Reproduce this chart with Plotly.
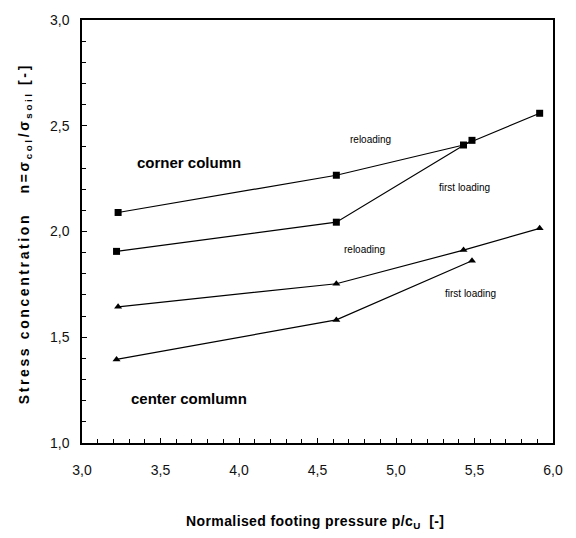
import plotly.graph_objects as go

# Corner column (squares)
corner_reload_x = [3.23, 4.62, 5.43, 5.915]
corner_reload_y = [2.09, 2.266, 2.409, 2.559]
corner_first_x = [3.22, 4.62, 5.484]
corner_first_y = [1.906, 2.044, 2.431]
# Center column (triangles)
center_reload_x = [3.23, 4.62, 5.43, 5.915]
center_reload_y = [1.644, 1.753, 1.912, 2.015]
center_first_x = [3.22, 4.62, 5.484]
center_first_y = [1.395, 1.582, 1.862]

fig = go.Figure()
def add(x, y, sym, size):
    fig.add_trace(go.Scatter(x=x, y=y, mode="lines+markers",
                             line=dict(color="black", width=1.2),
                             marker=dict(symbol=sym, size=size, color="black"),
                             showlegend=False))
add(corner_reload_x, corner_reload_y, "square", 7)
add(corner_first_x, corner_first_y, "square", 7)
add(center_reload_x, center_reload_y, "triangle-up", 7)
add(center_first_x, center_first_y, "triangle-up", 7)

font_main = "Liberation Sans, Arial, sans-serif"
ann = []
def txt(x, y, s, size, bold=False, xanchor="center"):
    ann.append(dict(x=x, y=y, xref="x", yref="y", text=(f"<b>{s}</b>" if bold else s),
                    showarrow=False, xanchor=xanchor, yanchor="middle",
                    font=dict(family=font_main, size=size, color="black")))
txt(3.34, 2.328, "corner column", 15, True, "left")
txt(3.30, 1.212, "center comlumn", 15, True, "left")
txt(4.836, 2.437, "reloading", 10)
txt(5.435, 2.206, "first loading", 10)
txt(4.798, 1.917, "reloading", 10)
txt(5.473, 1.706, "first loading", 10)

ann.append(dict(x=-0.122, y=0.495, xref="paper", yref="paper", showarrow=False,
                textangle=-90, xanchor="center", yanchor="middle",
                text="<b><span style='letter-spacing:2.6px'>Stress concentration   n=σ<sub>col</sub>/σ<sub>soil</sub> [-]</span></b>",
                font=dict(family=font_main, size=14, color="black")))
ann.append(dict(x=0.494, y=-0.186, xref="paper", yref="paper", showarrow=False,
                xanchor="center", yanchor="middle",
                text="<b><span style='letter-spacing:0.4px'>Normalised footing pressure p/c<sub>U</sub>  [-]</span></b>",
                font=dict(family=font_main, size=14, color="black")))

axis_common = dict(showgrid=False, zeroline=False, showline=True, linecolor="black",
                   linewidth=1.5, mirror=True, ticks="inside", ticklen=5,
                   tickcolor="black", tickformat=".1f",
                   tickfont=dict(family=font_main, size=14, color="#111"))
fig.update_layout(
    width=576, height=538,
    margin=dict(l=82, r=23, t=17, b=95),
    paper_bgcolor="white", plot_bgcolor="white",
    separators=",.",
    annotations=ann,
    xaxis=dict(range=[3.0, 6.0], dtick=0.5, ticklabelstandoff=13,
               minor=dict(dtick=0.1, ticks="inside", ticklen=4, tickcolor="black"),
               **axis_common),
    yaxis=dict(range=[1.0, 3.0], dtick=0.5, ticklabelstandoff=8,
               minor=dict(dtick=0.1, ticks="inside", ticklen=4, tickcolor="black"),
               **axis_common),
)
fig.write_html("out.html")
